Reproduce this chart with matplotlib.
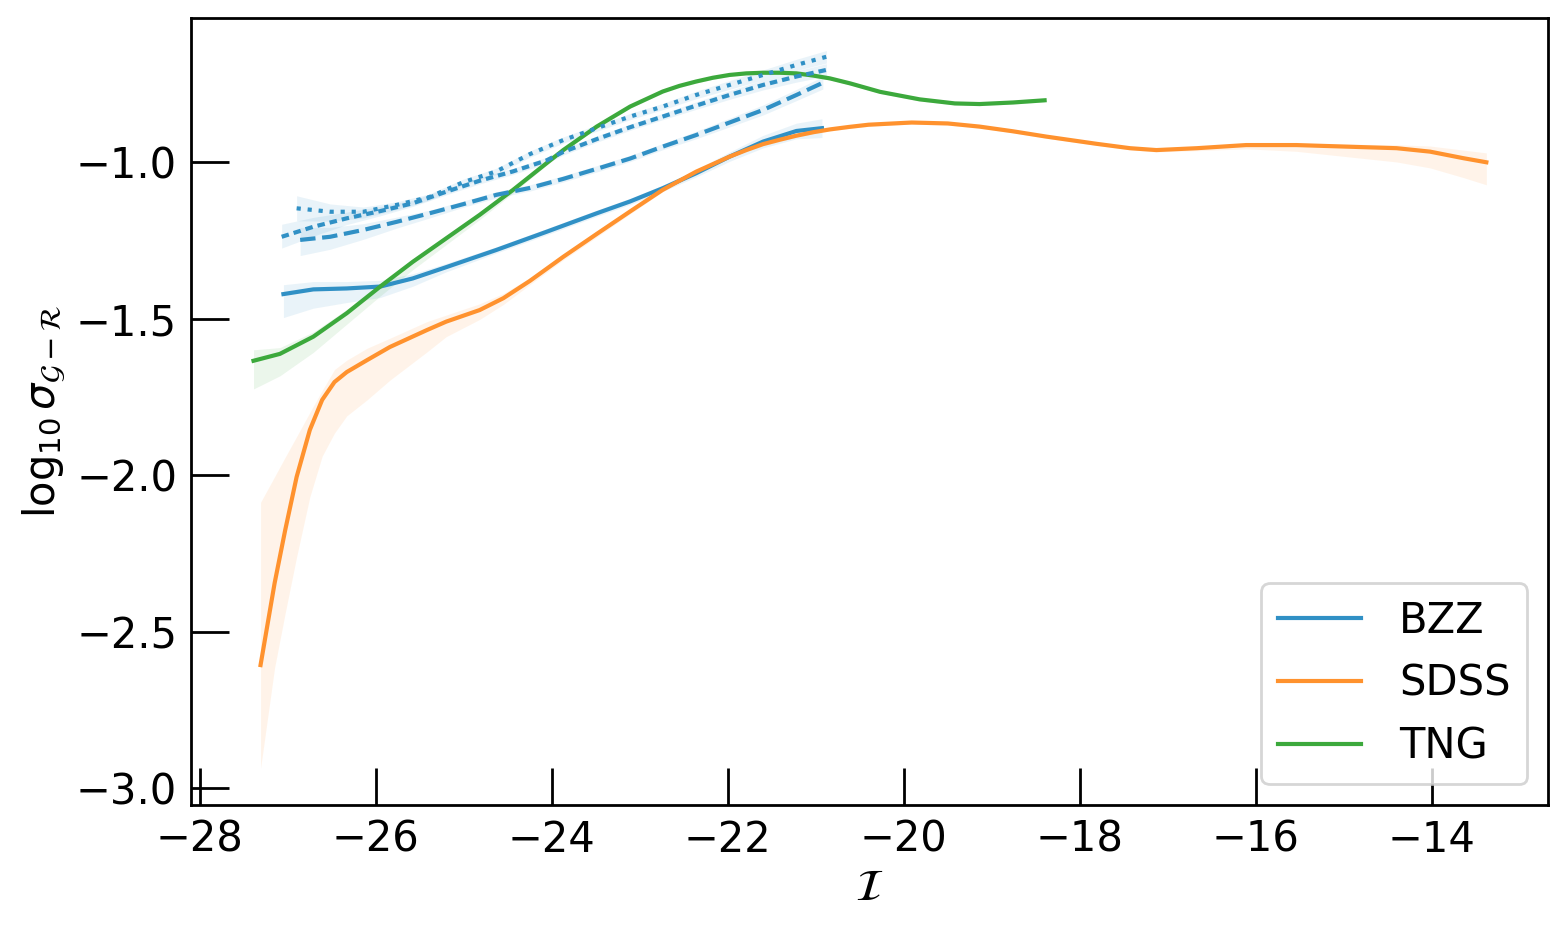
import numpy as np
import matplotlib
matplotlib.use('Agg')
import matplotlib.pyplot as plt

# ---- data ----
bzz_x = [-27.05, -26.71, -26.33, -25.95, -25.58, -25.20, -24.63, -24.06, -23.49,
         -23.11, -22.74, -22.36, -21.98, -21.60, -21.22, -20.93]
bzz_y = [-1.422, -1.407, -1.404, -1.398, -1.372, -1.336, -1.281, -1.223, -1.164,
         -1.126, -1.084, -1.036, -0.983, -0.935, -0.901, -0.892]
bzz_up = [0.03, 0.025, 0.022, 0.02, 0.015, 0.012, 0.01, 0.01, 0.01,
          0.01, 0.01, 0.012, 0.015, 0.02, 0.025, 0.03]
bzz_dn = [0.075, 0.06, 0.045, 0.035, 0.025, 0.015, 0.01, 0.01, 0.01,
          0.01, 0.01, 0.012, 0.015, 0.02, 0.025, 0.03]

bzz2_x = [-27.07, -26.71, -26.33, -25.95, -25.58, -25.20, -24.82, -24.44, -24.06,
          -23.87, -23.49, -23.11, -22.74, -22.36, -21.98, -21.60, -21.22, -20.88]
bzz2_y = [-1.239, -1.207, -1.180, -1.157, -1.132, -1.095, -1.060, -1.030, -0.995,
          -0.968, -0.927, -0.889, -0.855, -0.820, -0.786, -0.754, -0.727, -0.706]
bzz2_up = [0.04, 0.03, 0.02, 0.015, 0.01, 0.01, 0.01, 0.01, 0.01,
           0.01, 0.01, 0.01, 0.01, 0.012, 0.014, 0.016, 0.018, 0.02]
bzz2_dn = [0.036, 0.03, 0.02, 0.015, 0.01, 0.01, 0.01, 0.01, 0.01,
           0.01, 0.01, 0.01, 0.01, 0.012, 0.014, 0.016, 0.018, 0.02]

bzz3_x = [-26.86, -26.52, -26.14, -25.76, -25.39, -25.01, -24.63, -24.25, -23.87,
          -23.49, -23.11, -22.74, -22.36, -21.98, -21.60, -21.22, -20.92]
bzz3_y = [-1.249, -1.239, -1.217, -1.191, -1.164, -1.135, -1.105, -1.083, -1.054,
          -1.022, -0.989, -0.951, -0.914, -0.874, -0.834, -0.786, -0.747]
bzz3_up = [0.04, 0.03, 0.02, 0.015, 0.01, 0.01, 0.01, 0.01, 0.01,
           0.01, 0.01, 0.01, 0.012, 0.014, 0.016, 0.018, 0.02]
bzz3_dn = [0.05, 0.04, 0.03, 0.02, 0.015, 0.01, 0.01, 0.01, 0.01,
           0.01, 0.01, 0.01, 0.012, 0.014, 0.016, 0.018, 0.02]

bzz4_x = [-26.90, -26.52, -26.14, -25.76, -25.39, -25.01, -24.63, -24.25, -23.87,
          -23.49, -23.11, -22.74, -22.36, -21.98, -21.60, -21.22, -20.88]
bzz4_y = [-1.148, -1.159, -1.159, -1.137, -1.112, -1.065, -1.030, -0.975, -0.930,
          -0.892, -0.855, -0.823, -0.786, -0.754, -0.722, -0.690, -0.664]
bzz4_up = [0.04, 0.025, 0.015, 0.01, 0.01, 0.01, 0.01, 0.01, 0.01,
           0.01, 0.01, 0.01, 0.012, 0.014, 0.016, 0.018, 0.02]
bzz4_dn = [0.04, 0.03, 0.02, 0.015, 0.01, 0.01, 0.01, 0.01, 0.01,
           0.01, 0.01, 0.01, 0.012, 0.014, 0.016, 0.018, 0.02]

sdss_x = [-27.31, -27.15, -27.03, -26.90, -26.75, -26.61, -26.47, -26.33, -26.10,
          -25.84, -25.42, -25.20, -24.82, -24.55, -24.25, -23.87, -23.49, -23.11,
          -22.74, -22.36, -21.98, -21.79, -21.60, -21.41, -21.22, -21.03, -20.84,
          -20.62, -20.40, -19.91, -19.50, -19.14, -18.76, -18.38, -17.81, -17.43,
          -17.13, -16.67, -16.11, -15.54, -14.97, -14.40, -14.02, -13.64, -13.38]
sdss_y = [-2.607, -2.345, -2.176, -2.006, -1.856, -1.760, -1.703, -1.671, -1.633,
          -1.591, -1.537, -1.510, -1.473, -1.435, -1.380, -1.303, -1.230, -1.158,
          -1.089, -1.031, -0.983, -0.962, -0.943, -0.929, -0.916, -0.905, -0.896,
          -0.888, -0.881, -0.874, -0.877, -0.887, -0.902, -0.919, -0.942, -0.956,
          -0.962, -0.956, -0.946, -0.946, -0.951, -0.956, -0.967, -0.988, -1.001]
sdss_up = [0.52, 0.34, 0.233, 0.129, 0.056, 0.03, 0.04, 0.038, 0.038,
           0.028, 0.027, 0.021, 0.02, 0.015, 0.01, 0.01, 0.01, 0.008,
           0.006, 0.005, 0.005, 0.005, 0.005, 0.005, 0.005, 0.005, 0.005,
           0.005, 0.005, 0.005, 0.005, 0.005, 0.005, 0.005, 0.005, 0.005,
           0.005, 0.005, 0.005, 0.006, 0.008, 0.011, 0.018, 0.026, 0.03]
sdss_dn = [0.33, 0.27, 0.265, 0.255, 0.214, 0.18, 0.163, 0.14, 0.127,
           0.106, 0.07, 0.048, 0.03, 0.02, 0.012, 0.01, 0.01, 0.008,
           0.006, 0.005, 0.005, 0.005, 0.005, 0.005, 0.005, 0.005, 0.005,
           0.005, 0.005, 0.005, 0.005, 0.005, 0.005, 0.005, 0.005, 0.005,
           0.006, 0.008, 0.012, 0.02, 0.032, 0.044, 0.052, 0.062, 0.072]

tng_x = [-27.39, -27.09, -26.71, -26.33, -25.95, -25.58, -25.20, -24.82, -24.44,
         -24.06, -23.87, -23.49, -23.11, -22.74, -22.55, -22.36, -22.17, -21.98,
         -21.79, -21.60, -21.41, -21.22, -21.03, -20.84, -20.61, -20.27, -19.82,
         -19.42, -19.14, -18.76, -18.40]
tng_y = [-1.635, -1.613, -1.558, -1.483, -1.398, -1.319, -1.244, -1.169, -1.089,
         -1.004, -0.962, -0.887, -0.823, -0.775, -0.757, -0.743, -0.731, -0.722,
         -0.717, -0.715, -0.715, -0.717, -0.724, -0.733, -0.749, -0.776, -0.800,
         -0.813, -0.815, -0.810, -0.803]
tng_up = [0.035, 0.02, 0.015, 0.012, 0.01, 0.01, 0.01, 0.008, 0.006,
          0.005, 0.005, 0.005, 0.005, 0.005, 0.005, 0.005, 0.005, 0.005,
          0.005, 0.005, 0.005, 0.005, 0.005, 0.005, 0.005, 0.005, 0.005,
          0.005, 0.005, 0.005, 0.005]
tng_dn = [0.09, 0.07, 0.05, 0.035, 0.03, 0.025, 0.02, 0.015, 0.01,
          0.006, 0.005, 0.005, 0.005, 0.005, 0.005, 0.005, 0.005, 0.005,
          0.005, 0.005, 0.005, 0.005, 0.005, 0.005, 0.005, 0.005, 0.005,
          0.005, 0.005, 0.005, 0.005]

c_blue = '#3090c5'
c_orange = '#ff922e'
c_green = '#3ca93c'

plt.rcParams['font.size'] = 15
plt.rcParams['mathtext.fontset'] = 'dejavusans'

fig = plt.figure(figsize=(7.81, 4.7), dpi=200)
ax = fig.add_axes([0.1223, 0.1436, 0.8687, 0.8373])


def band(x, y, up, dn, col, ls, lab=None):
    x = np.array(x)
    y = np.array(y)
    ax.fill_between(x, y - np.array(dn), y + np.array(up), color=col,
                    alpha=0.1, lw=0)
    ax.plot(x, y, color=col, ls=ls, lw=1.5, label=lab,
            solid_joinstyle='round')


band(bzz_x, bzz_y, bzz_up, bzz_dn, c_blue, '-', 'BZZ')
band(sdss_x, sdss_y, sdss_up, sdss_dn, c_orange, '-', 'SDSS')
band(tng_x, tng_y, tng_up, tng_dn, c_green, '-', 'TNG')
band(bzz2_x, bzz2_y, bzz2_up, bzz2_dn, c_blue, (0, (1.8, 1.2)))
band(bzz3_x, bzz3_y, bzz3_up, bzz3_dn, c_blue, '--')
band(bzz4_x, bzz4_y, bzz4_up, bzz4_dn, c_blue, ':')

ax.set_xlim(-28.1, -12.68)
ax.set_ylim(-3.054, -0.54)
ax.set_xticks([-28, -26, -24, -22, -20, -18, -16, -14])
ax.set_yticks([-3.0, -2.5, -2.0, -1.5, -1.0])
ax.tick_params(direction='in', length=13.5, width=1.0, pad=5, labelsize=15)
for s in ax.spines.values():
    s.set_linewidth(1.0)

ax.set_xlabel(r'$\mathcal{I}$', fontsize=16, labelpad=2)
ax.set_ylabel(r'$\log_{10}\sigma_{\mathcal{G}-\mathcal{R}}$', fontsize=15, labelpad=3)

ax.legend(loc='lower right', fontsize=15, handlelength=2.0, handletextpad=0.9)

fig.savefig('out.png', dpi=200)
